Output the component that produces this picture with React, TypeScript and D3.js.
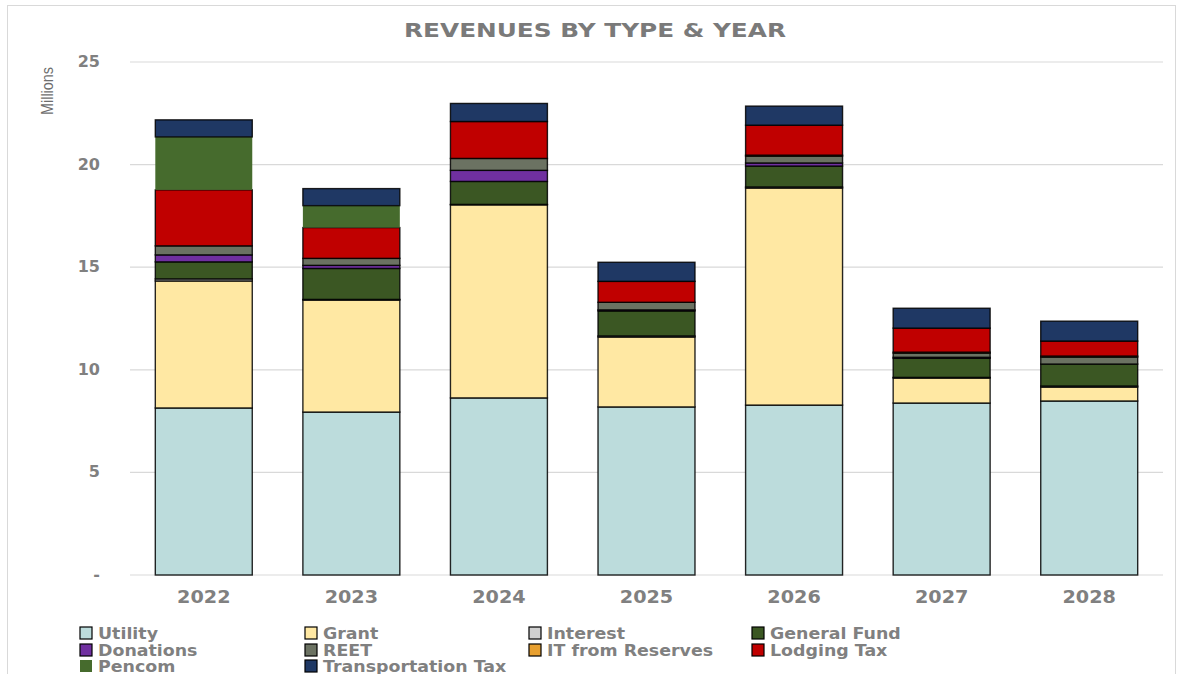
import React from 'react';
import * as d3 from 'd3';

const years = ['2022', '2023', '2024', '2025', '2026', '2027', '2028'];

const utility = [8.14, 7.94, 8.63, 8.19, 8.28, 8.38, 8.48];
const grant = [6.19, 5.46, 9.41, 3.41, 10.58, 1.22, 0.68];
const interest = [0.1, 0.03, 0.02, 0.05, 0.05, 0.03, 0.05];
const generalFund = [0.83, 1.51, 1.12, 1.22, 1.02, 0.93, 1.07];
const donations = [0.34, 0.15, 0.54, 0.05, 0.15, 0.05, 0];
const reet = [0.44, 0.34, 0.58, 0.37, 0.33, 0.2, 0.34];
const itFromReserves = [0, 0, 0, 0, 0.05, 0.05, 0.05];
const lodgingTax = [2.73, 1.5, 1.8, 1.02, 1.46, 1.17, 0.73];
const pencom = [2.58, 1.07, 0, 0, 0, 0, 0];
const transportationTax = [0.83, 0.83, 0.88, 0.93, 0.93, 0.97, 0.97];

const yTicks = [0, 5, 10, 15, 20, 25];

const series = [
	{ key: 'Utility', values: utility, color: '#bcdcdc', border: true },
	{ key: 'Grant', values: grant, color: '#ffe8a3', border: true },
	{ key: 'Interest', values: interest, color: '#d0d0d0', border: true },
	{ key: 'General Fund', values: generalFund, color: '#3b5723', border: true },
	{ key: 'Donations', values: donations, color: '#7030a0', border: true },
	{ key: 'REET', values: reet, color: '#6b7262', border: true },
	{ key: 'IT from Reserves', values: itFromReserves, color: '#e8a030', border: true },
	{ key: 'Lodging Tax', values: lodgingTax, color: '#c00000', border: true },
	{ key: 'Pencom', values: pencom, color: '#466b2d', border: false },
	{ key: 'Transportation Tax', values: transportationTax, color: '#1f3864', border: true },
];

const W = 1182;
const H = 674;
const plot = { left: 130, right: 1163, top: 62, bottom: 575 };
const font = '"DejaVu Sans", Verdana, sans-serif';

export default function App() {
	const table = years.map((y, i) => {
		const row: Record<string, number | string> = { year: y };
		series.forEach((s) => (row[s.key] = s.values[i]));
		return row;
	});

	const stacked = d3
		.stack<Record<string, number | string>>()
		.keys(series.map((s) => s.key))
		.value((d, k) => d[k] as number)(table);

	const x = d3
		.scaleBand<string>()
		.domain(years)
		.range([plot.left, plot.right])
		.paddingInner(0.343)
		.paddingOuter(0.1715);

	const y = d3.scaleLinear().domain([0, 25]).range([plot.bottom, plot.top]);

	const legendCols = [80, 305, 529, 752];
	const legendRows = [633, 650, 666];

	return (
		<svg
			width={W}
			height={H}
			style={{ position: 'absolute', left: 0, top: 0, background: '#fff' }}
		>
			<rect x={7.5} y={5.5} width={1168} height={720} fill="#fff" stroke="#d9d9d9" />

			<text
				x={404}
				y={37}
				textLength={382}
				lengthAdjust="spacingAndGlyphs"
				fontFamily={font}
				fontWeight="bold"
				fontSize={19}
				fill="#7a7a7a"
			>
				REVENUES BY TYPE &amp; YEAR
			</text>

			<text
				transform={`translate(53, 91) rotate(-90)`}
				textAnchor="middle"
				textLength={48}
				lengthAdjust="spacingAndGlyphs"
				fontFamily='"Liberation Sans", Arial, sans-serif'
				fontSize={16}
				fill="#6e6e6e"
			>
				Millions
			</text>

			{yTicks.map((t) => (
				<g key={t}>
					<line
						x1={plot.left}
						x2={plot.right}
						y1={y(t)}
						y2={y(t)}
						stroke="#d9d9d9"
						strokeWidth={1.2}
					/>
					<text
						x={100}
						y={y(t) + 5}
						textAnchor="end"
						fontFamily={font}
						fontWeight="bold"
						fontSize={16}
						fill="#808080"
					>
						{t === 0 ? '-' : t}
					</text>
				</g>
			))}

			{stacked.map((layer, li) => {
				const s = series[li];
				return (
					<g key={s.key}>
						{layer.map((d, i) => {
							if (d[1] - d[0] <= 0) return null;
							return (
								<rect
									key={i}
									x={x(years[i])}
									y={y(d[1])}
									width={x.bandwidth()}
									height={y(d[0]) - y(d[1])}
									fill={s.color}
									stroke={s.border ? '#000' : 'none'}
									strokeWidth={1.4}
									strokeOpacity={0.85}
								/>
							);
						})}
					</g>
				);
			})}

			{years.map((yr) => (
				<text
					key={yr}
					transform={`translate(${(x(yr) as number) + x.bandwidth() / 2}, 603) scale(1.13, 1)`}
					textAnchor="middle"
					fontFamily={font}
					fontWeight="bold"
					fontSize={17}
					fill="#808080"
				>
					{yr}
				</text>
			))}

			{series.map((s, i) => {
				const cx = legendCols[i % 4];
				const cy = legendRows[Math.floor(i / 4)];
				return (
					<g key={s.key}>
						<rect
							x={cx}
							y={cy - 6}
							width={12}
							height={12}
							fill={s.color}
							stroke={s.border ? '#000' : 'none'}
							strokeWidth={1.2}
						/>
						<text
							transform={`translate(${cx + 18}, ${cy + 5.5}) scale(1.16, 1)`}
							fontFamily={font}
							fontWeight="bold"
							fontSize={15}
							fill="#808080"
						>
							{s.key}
						</text>
					</g>
				);
			})}
		</svg>
	);
}
